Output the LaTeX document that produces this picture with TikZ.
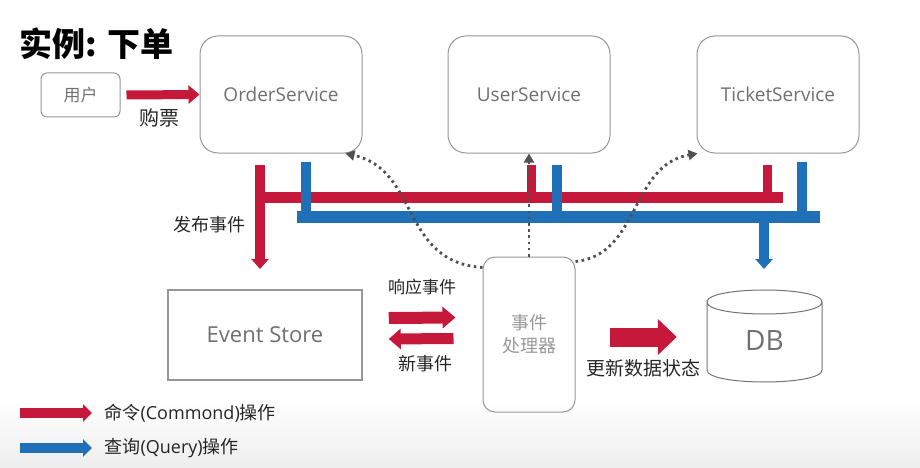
\documentclass[tikz,border=0pt]{standalone}
\usepackage{fontspec}
\setmainfont{Open Sans}
\newfontfamily\cjk{Noto Sans CJK SC}
\usetikzlibrary{arrows.meta,positioning}
\definecolor{cmdred}{RGB}{198,24,58}
\definecolor{qryblue}{RGB}{32,112,184}
\definecolor{boxgray}{RGB}{150,150,150}
\definecolor{txtgray}{RGB}{112,112,112}
\definecolor{dotgray}{RGB}{80,80,80}

\begin{document}
\begin{tikzpicture}[>=Stealth,x=1pt,y=-1pt,
  svcbox/.style={draw=boxgray,line width=1pt,rounded corners=18pt,minimum width=162pt,minimum height=117pt,text=txtgray,font=\fontsize{19}{21}\selectfont},
  cmdline/.style={cmdred,line width=#1},
  qryline/.style={qryblue,line width=#1},
  evt/.style={dotgray,line width=2.8pt,dash pattern=on 2.6pt off 3.6pt,-{Triangle[length=9pt,width=10pt]}},
  lbl/.style={text=black!85,font=\cjk\fontsize{18}{20}\selectfont}]
  \useasboundingbox (0,0) rectangle (920,468);
  \shade[top color=white,bottom color=black!7] (0,400) rectangle (920,468);

  % title
  \node[anchor=west,font=\cjk\bfseries\fontsize{33}{36}\selectfont] (title) at (16,44) {实例: 下单};

  % services
  \node[draw=boxgray,line width=1pt,rounded corners=6pt,minimum width=79pt,minimum height=44pt,text=txtgray,font=\cjk\fontsize{17}{19}\selectfont] (user) at (80.5,95) {用户};
  \node[svcbox] (order) at (281,94.5) {OrderService};
  \node[svcbox] (usersvc) at (529,94.5) {UserService};
  \node[svcbox] (ticket) at (778,94.5) {TicketService};

  % store, handler, db
  \node[draw=boxgray,line width=1.5pt,minimum width=194pt,minimum height=90pt,text=txtgray,font=\fontsize{22}{24}\selectfont] (store) at (265,335) {Event Store};
  \node[draw=boxgray,line width=1pt,rounded corners=12pt,minimum width=92pt,minimum height=155pt,align=center,text=black!40,font=\cjk\fontsize{18}{23}\selectfont] (handler) at (529,334.5) {事件\\处理器};
  \node[minimum width=115pt,minimum height=92pt,text=txtgray,font=\fontsize{28}{30}\selectfont] (db) at (764.5,341) {DB};
  \draw[black!55,line width=1pt] (707,302) .. controls (707,286) and (822,286) .. (822,302)
    .. controls (822,318) and (707,318) .. (707,302) -- (707,370)
    .. controls (707,386) and (822,386) .. (822,370) -- (822,302);

  % buy ticket
  \draw[cmdline=9pt,-{Triangle[length=11pt,width=18pt]}] ([xshift=6pt]user.east) -- (order.west);
  \node[lbl,font=\cjk\fontsize{20}{22}\selectfont] (buy) at (159,118) {购票};

  % command bus
  \coordinate (cmdA) at (260,165);
  \coordinate (cmdTip) at (260,269);
  \coordinate (cmdB) at (531,165);
  \coordinate (cmdC) at (767,165);
  \coordinate (cmdL) at (255,197);
  \coordinate (cmdR) at (783,197);
  \draw[cmdline=11pt] (cmdL) -- (cmdR);
  \draw[cmdline=9pt] (cmdB) -- (cmdB |- cmdR);
  \draw[cmdline=9pt] (cmdC) -- (cmdC |- cmdR);
  \draw[cmdline=10pt,-{Triangle[length=10pt,width=17pt]}] (cmdA) -- (cmdTip);
  \node[lbl,anchor=east] (publish) at (249,225) {发布事件};

  % query bus
  \coordinate (qryA) at (306,162);
  \coordinate (qryB) at (557,165);
  \coordinate (qryC) at (802,162);
  \coordinate (qryL) at (297,217);
  \coordinate (qryR) at (820,217);
  \coordinate (qryTip) at (764,269);
  \draw[qryline=12pt] (qryL) -- (qryR);
  \draw[qryline=10pt] (qryA) -- (qryA |- qryR);
  \draw[qryline=10pt] (qryB) -- (qryB |- qryR);
  \draw[qryline=10pt] (qryC) -- (qryC |- qryR);
  \draw[qryline=10pt,-{Triangle[length=10pt,width=17pt]}] (qryTip |- qryR) -- (qryTip);

  % event handler notifications
  \draw[evt] (handler.north) -- (usersvc.south);
  \draw[evt] ([yshift=-11pt]handler.north west) .. controls (400,262) and (420,170) .. ([xshift=-17pt]order.south east);
  \draw[evt] ([yshift=-5pt]handler.north east) .. controls (640,255) and (630,165) .. ([xshift=1pt]ticket.south west);

  % store <-> handler
  \draw[cmdline=12pt,-{Triangle[length=13pt,width=21pt]}] ([xshift=26pt,yshift=17pt]store.east) -- ([xshift=-27pt,yshift=17pt]handler.west);
  \draw[cmdline=11pt,-{Triangle[length=12pt,width=20pt]}] ([xshift=-29pt,yshift=-4pt]handler.west) -- ([xshift=26pt,yshift=-4pt]store.east);
  \node[lbl,font=\cjk\fontsize{17}{19}\selectfont] (reply) at (422,287) {响应事件};
  \node[lbl] (newevt) at (425,364) {新事件};

  % update db
  \draw[cmdline=19pt,-{Triangle[length=19pt,width=35pt]}] ([xshift=34pt,yshift=-2.5pt]handler.east) -- ([xshift=-30pt,yshift=4pt]db.west);
  \node[lbl,font=\cjk\fontsize{19}{21}\selectfont] (update) at (643,368) {更新数据状态};

  % legend
  \coordinate (keyC) at (20,413);
  \coordinate (keyQ) at (20,448);
  \draw[cmdline=10pt,-{Triangle[length=9pt,width=17pt]}] (keyC) -- ++(72,0);
  \draw[qryline=10pt,-{Triangle[length=9pt,width=17pt]}] (keyQ) -- ++(72,0);
  \node[lbl,anchor=west,font=\fontsize{18}{20}\selectfont] (keyCtxt) at (101,413) {{\cjk 命令}(Commond){\cjk 操作}};
  \node[lbl,anchor=west,font=\fontsize{18}{20}\selectfont] (keyQtxt) at (101,448) {{\cjk 查询}(Query){\cjk 操作}};
\end{tikzpicture}
\end{document}
